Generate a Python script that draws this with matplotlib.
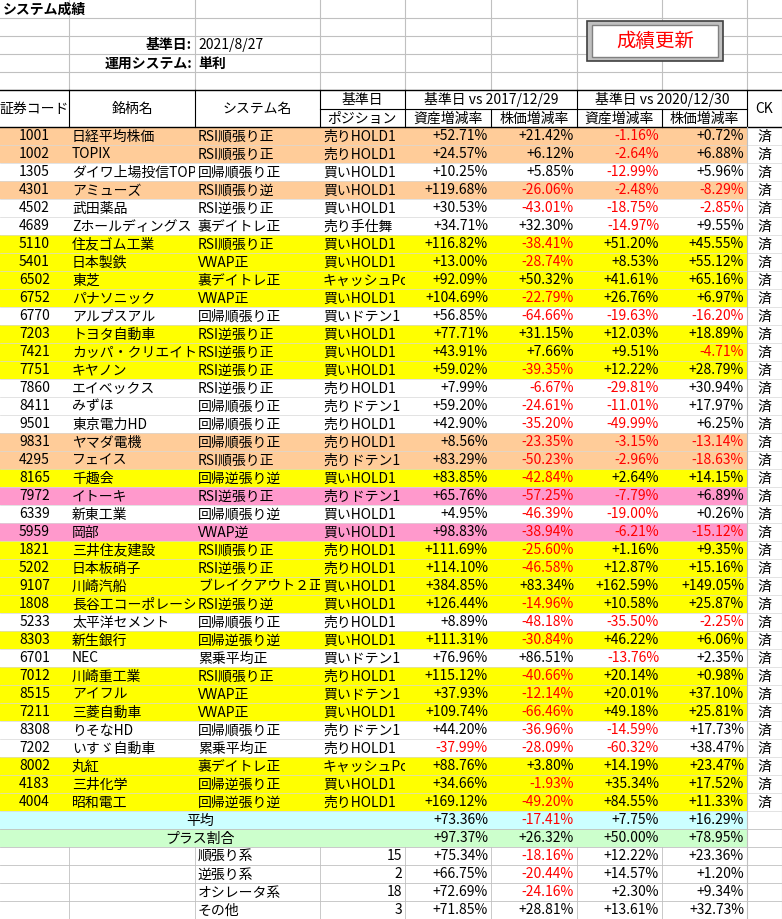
import matplotlib.pyplot as plt
from matplotlib.patches import Rectangle
from matplotlib.transforms import Bbox, TransformedBbox

plt.rcParams['font.family'] = ['Noto Sans CJK JP', 'DejaVu Sans']

codes = ["1001","1002","1305","4301","4502","4689","5110","5401","6502","6752","6770","7203","7421","7751",
         "7860","8411","9501","9831","4295","8165","7972","6339","5959","1821","5202","9107","1808","5233",
         "8303","6701","7012","8515","7211","8308","7202","8002","4183","4004"]
names = ["日経平均株価","TOPIX","ダイワ上場投信TOPIX","アミューズ","武田薬品","Zホールディングス","住友ゴム工業","日本製鉄",
         "東芝","パナソニック","アルプスアル","トヨタ自動車","カッパ・クリエイト","キヤノン","エイベックス","みずほ","東京電力HD",
         "ヤマダ電機","フェイス","千趣会","イトーキ","新東工業","岡部","三井住友建設","日本板硝子","川崎汽船","長谷工コーポレーション",
         "太平洋セメント","新生銀行","NEC","川崎重工業","アイフル","三菱自動車","りそなHD","いすゞ自動車","丸紅","三井化学","昭和電工"]
systems = ["RSI順張り正","RSI順張り正","回帰順張り正","RSI順張り逆","RSI逆張り正","裏デイトレ正","RSI順張り正","VWAP正",
           "裏デイトレ正","VWAP正","回帰順張り正","RSI逆張り正","RSI逆張り正","RSI逆張り正","RSI逆張り正","回帰順張り正",
           "回帰順張り正","回帰順張り正","RSI順張り正","回帰逆張り逆","RSI逆張り正","回帰順張り逆","VWAP逆","RSI順張り正",
           "RSI逆張り正","ブレイクアウト２正","RSI逆張り逆","回帰順張り正","回帰逆張り逆","累乗平均正","RSI順張り正","VWAP正",
           "VWAP正","回帰順張り正","累乗平均正","裏デイトレ正","回帰逆張り正","回帰逆張り逆"]
positions = ["売りHOLD1","売りHOLD1","買いHOLD1","買いHOLD1","買いHOLD1","売り手仕舞","買いHOLD1","買いHOLD1",
             "キャッシュPos","買いHOLD1","買いドテン1","買いHOLD1","買いHOLD1","買いHOLD1","売りHOLD1","売りドテン1",
             "売りHOLD1","売りHOLD1","売りドテン1","買いHOLD1","売りドテン1","買いHOLD1","買いHOLD1","売りHOLD1",
             "売りHOLD1","買いHOLD1","買いHOLD1","売りHOLD1","買いHOLD1","買いドテン1","売りHOLD1","買いドテン1",
             "買いHOLD1","売りドテン1","売りHOLD1","キャッシュPos","買いHOLD1","売りHOLD1"]
asset17 = [52.71,24.57,10.25,119.68,30.53,34.71,116.82,13.00,92.09,104.69,56.85,77.71,43.91,59.02,7.99,59.20,
           42.90,8.56,83.29,83.85,65.76,4.95,98.83,111.69,114.10,384.85,126.44,8.89,111.31,76.96,115.12,37.93,
           109.74,44.20,-37.99,88.76,34.66,169.12]
price17 = [21.42,6.12,5.85,-26.06,-43.01,32.30,-38.41,-28.74,50.32,-22.79,-64.66,31.15,7.66,-39.35,-6.67,-24.61,
           -35.20,-23.35,-50.23,-42.84,-57.25,-46.39,-38.94,-25.60,-46.58,83.34,-14.96,-48.18,-30.84,86.51,-40.66,
           -12.14,-66.46,-36.96,-28.09,3.80,-1.93,-49.20]
asset20 = [-1.16,-2.64,-12.99,-2.48,-18.75,-14.97,51.20,8.53,41.61,26.76,-19.63,12.03,9.51,12.22,-29.81,-11.01,
           -49.99,-3.15,-2.96,2.64,-7.79,-19.00,-6.21,1.16,12.87,162.59,10.58,-35.50,46.22,-13.76,20.14,20.01,
           49.18,-14.59,-60.32,14.19,35.34,84.55]
price20 = [0.72,6.88,5.96,-8.29,-2.85,9.55,45.55,55.12,65.16,6.97,-16.20,18.89,-4.71,28.79,30.94,17.97,6.25,
           -13.14,-18.63,14.15,6.89,0.26,-15.12,9.35,15.16,149.05,25.87,-2.25,6.06,2.35,0.98,37.10,25.81,17.73,
           38.47,23.47,17.52,11.33]
row_colors = ["o","o","w","o","w","w","y","y","y","y","w","y","y","y","w","w","w","o","o","y","p","w","p",
              "y","y","y","y","w","y","w","y","y","y","w","w","y","y","y"]
avg_vals = [73.36,-17.41,7.75,16.29]
plus_vals = [97.37,26.32,50.00,78.95]
groups = ["順張り系","逆張り系","オシレータ系","その他"]
group_counts = [15,2,18,3]
group_vals = [[75.34,-18.16,12.22,23.36],[66.75,-20.44,14.57,1.20],[72.69,-24.16,2.30,9.34],[71.85,28.81,13.61,32.73]]

palette = {"o": "#FFCC99", "y": "#FFFF00", "p": "#FF99CC", "w": "white"}
cols = [0, 69, 195, 320, 405, 491, 577, 662, 747, 782]
RH = 18
top = 127

fig = plt.figure(figsize=(7.82, 9.19), dpi=100)
ax = fig.add_axes([0, 0, 1, 1])
ax.set_xlim(0, 782)
ax.set_ylim(919, 0)
ax.axis('off')
fs = 10
grid = "#C0C0C0"

def pct(v):
    return f"{v:+.2f}%"

def cell_text(x0, x1, y, s, ha="left", color="black", clip=True, **kw):
    yb = y + RH - 4.5
    if ha == "left":
        xx = x0 + 3
    elif ha == "right":
        xx = x1 - 3
    else:
        xx = (x0 + x1) / 2
    t = ax.text(xx, yb, s, ha=ha, va="baseline", fontsize=fs, color=color, **kw)
    if clip:
        t.set_clip_on(True)
        t.set_clip_box(TransformedBbox(Bbox([[x0, y], [x1, y + RH]]), ax.transData))
    return t

# top area gridlines
for x in cols[1:-1]:
    ax.plot([x, x], [0, 90], color=grid, lw=0.8)
for y in range(18, 90, 18):
    ax.plot([0, 782], [y, y], color=grid, lw=0.8)
ax.add_patch(Rectangle((0, 0), 195, 17.5, color="white", zorder=1))
ax.text(3, 13.5, "システム成績", fontsize=fs, fontweight="bold", va="baseline", zorder=2)
ax.text(192, 49.5, "基準日:", fontsize=fs, fontweight="bold", va="baseline", ha="right")
ax.text(198, 49.5, "2021/8/27", fontsize=fs, va="baseline")
ax.text(192, 67.5, "運用システム:", fontsize=fs, fontweight="bold", va="baseline", ha="right")
ax.text(198, 67.5, "単利", fontsize=fs, fontweight="bold", va="baseline")

# button
ax.add_patch(Rectangle((587, 21), 136, 40, facecolor="#C0C0C0", edgecolor="#404040", lw=1.2, zorder=3))
ax.add_patch(Rectangle((592, 25), 126, 32, facecolor="white", edgecolor="#808080", lw=1, zorder=4))
ax.text(655, 47, "成績更新", color="red", fontsize=14, ha="center", va="baseline", zorder=5)

# header
hy0, hy1, hy2 = 90, 108.5, 127
ax.plot([0, 782], [hy0, hy0], color="black", lw=1)
ax.plot([0, 782], [hy2, hy2], color="black", lw=1)
ax.plot([320, 747], [hy1, hy1], color="black", lw=0.8)
for x in cols[1:-1]:
    if x in (491, 662):
        ax.plot([x, x], [hy1, hy2], color="black", lw=0.8)
    else:
        ax.plot([x, x], [hy0, hy2], color="black", lw=0.8)
for (a, b, s) in [(0, 69, "証券コード"), (69, 195, "銘柄名"), (195, 320, "システム名"), (747, 782, "CK")]:
    ax.text((a + b) / 2, 113, s, ha="center", va="baseline", fontsize=fs)
ax.text(362, 104, "基準日", ha="center", va="baseline", fontsize=fs)
ax.text(362, 122.5, "ポジション", ha="center", va="baseline", fontsize=fs)
ax.text(491, 104, "基準日 vs 2017/12/29", ha="center", va="baseline", fontsize=fs)
ax.text(662, 104, "基準日 vs 2020/12/30", ha="center", va="baseline", fontsize=fs)
for i in range(4):
    ax.text((cols[4 + i] + cols[5 + i]) / 2, 122.5, ["資産増減率", "株価増減率"][i % 2],
            ha="center", va="baseline", fontsize=fs)

# data rows
for i, code in enumerate(codes):
    y = top + i * RH
    ax.add_patch(Rectangle((0, y), 747, RH, facecolor=palette[row_colors[i]], lw=0))
    ax.plot([0, 782], [y + RH, y + RH], color="#D8D8D8", lw=0.5)
    cell_text(0, 69, y, code, ha="center", clip=False)
    cell_text(69, 195, y, names[i])
    cell_text(195, 320, y, systems[i])
    cell_text(320, 405, y, positions[i])
    for j, v in enumerate([asset17[i], price17[i], asset20[i], price20[i]]):
        cell_text(cols[4 + j], cols[5 + j], y, pct(v), ha="right", color="red" if v < 0 else "black", clip=False)
    cell_text(747, 782, y, "済", ha="center", clip=False)

# summary rows
y = top + len(codes) * RH
for label, vals, fc in [("平均", avg_vals, "#CCFFFF"), ("プラス割合", plus_vals, "#CCFFCC")]:
    ax.add_patch(Rectangle((0, y), 747, RH, facecolor=fc, lw=0))
    ax.plot([0, 782], [y + RH, y + RH], color=grid, lw=0.6)
    ax.text(200, y + RH - 4.5, label, ha="center", va="baseline", fontsize=fs)
    for j, v in enumerate(vals):
        cell_text(cols[4 + j], cols[5 + j], y, pct(v), ha="right", color="red" if v < 0 else "black", clip=False)
    y += RH
ys = y
for k, g in enumerate(groups):
    cell_text(195, 320, y, g, clip=False)
    cell_text(320, 405, y, str(group_counts[k]), ha="right", clip=False)
    for j, v in enumerate(group_vals[k]):
        cell_text(cols[4 + j], cols[5 + j], y, pct(v), ha="right", color="red" if v < 0 else "black", clip=False)
    ax.plot([0, 782], [y + RH, y + RH], color=grid, lw=0.6)
    y += RH
for x in cols[1:-1]:
    ax.plot([x, x], [ys, y], color=grid, lw=0.6)

# CK column borders
ax.plot([747, 747], [hy2, y], color=grid, lw=0.8)
ax.plot([781.5, 781.5], [hy0, y], color=grid, lw=0.8)

fig.savefig("out.png", dpi=100)
